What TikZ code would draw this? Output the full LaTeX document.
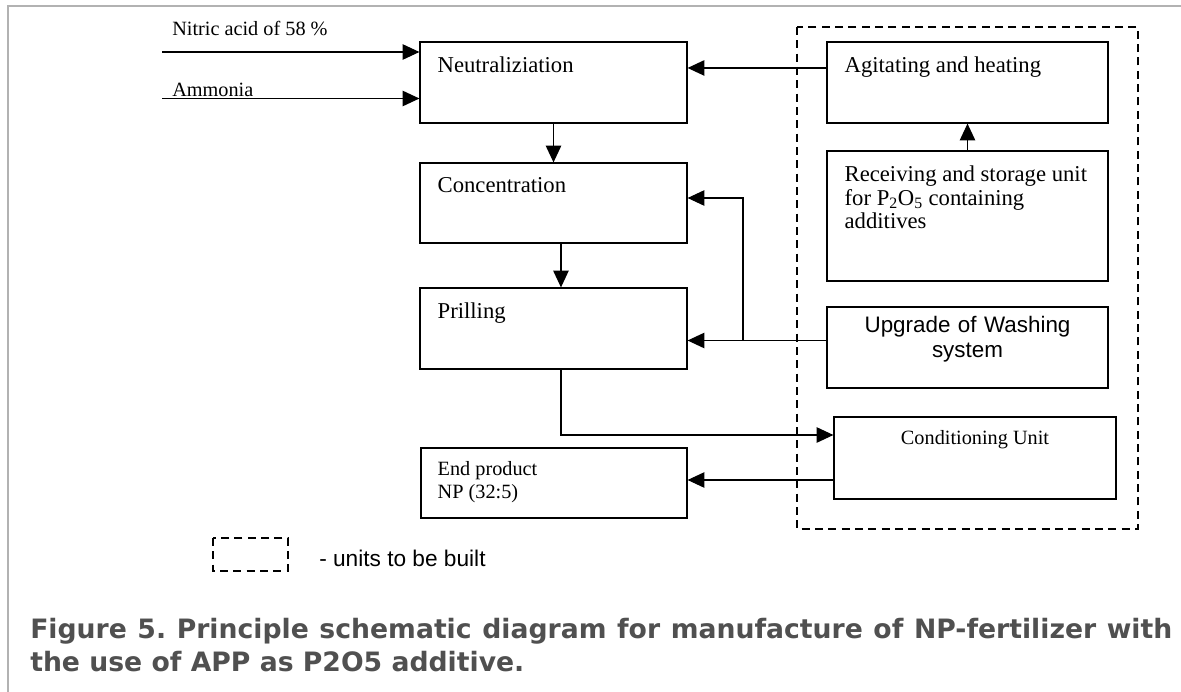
\documentclass[tikz,border=0pt]{standalone}
\usepackage{fontspec}
\setmainfont{Liberation Serif}
\newfontfamily\arialfont{Liberation Sans}
\newfontfamily\capfont{DejaVu Sans}
\usetikzlibrary{arrows.meta,fit}
\definecolor{capgray}{RGB}{80,80,80}

\begin{document}
\begin{tikzpicture}[x=0.75pt,y=-0.75pt,
        unit/.style={draw, line width=0.9pt, inner sep=0pt},
        boxtext/.style={font=\fontsize{17}{17.5}\selectfont, inner sep=0pt, align=left},
        smalltext/.style={font=\fontsize{15.2}{17.6}\selectfont, inner sep=0pt, align=left},
        flow/.style={line width=0.9pt, -{Triangle[length=12.5pt,width=11.5pt]}},
        newunit/.style={line width=1pt, dash pattern=on 6pt off 4pt},
        caption/.style={font=\capfont\bfseries\fontsize{20}{24}\selectfont, text=capgray, inner sep=0pt}
    ]
    \useasboundingbox (0,0) rectangle (1181,692);
    \draw[gray!60, line width=0.8pt] (8,692) -- (8,6) -- (1181,6);

    % main line
    \node[unit, fit={(420,42) (687,123)},
        label={[boxtext, anchor=north west, xshift=13.5pt, yshift=-11pt]north west:Neutraliziation}] (neut) {};
    \node[unit, fit={(420,163) (687,243)},
        label={[boxtext, anchor=north west, xshift=13.5pt, yshift=-11pt]north west:Concentration}] (conc) {};
    \node[unit, fit={(420,288) (687,369)},
        label={[boxtext, anchor=north west, xshift=13.5pt, yshift=-11pt]north west:Prilling}] (prill) {};
    \node[unit, fit={(421,448) (687,518)},
        label={[smalltext, anchor=north west, xshift=12.75pt, yshift=-10pt]north west:End product\\NP (32:5)}] (endp) {};

    % units to be built
    \draw[newunit] (797,27) rectangle (1138,529);
    \node[unit, fit={(827,42) (1108,123)},
        label={[boxtext, anchor=north west, xshift=13.5pt, yshift=-11pt]north west:Agitating and heating}] (agit) {};
    \node[unit, fit={(827,151) (1108,281)},
        label={[boxtext, anchor=north west, xshift=13.5pt, yshift=-11.5pt]north west:Receiving and storage unit\\
            for P\textsubscript{2}O\textsubscript{5} containing\\additives}] (recv) {};
    \node[unit, fit={(827,307) (1108,388)}, align=center,
        font=\arialfont\fontsize{16.8}{18.5}\selectfont] (wash) {Upgrade of Washing\\system};
    \node[unit, fit={(834,417) (1116,499)},
        label={[smalltext, anchor=north, yshift=-10.5pt]north:Conditioning Unit}] (cond) {};

    % feeds
    \node[smalltext, anchor=base west] (nitric) at (172,36) {Nitric acid of 58 \%};
    \node[smalltext, anchor=base west] (ammonia) at (172,96) {Ammonia};
    \coordinate (nitric-in) at (162,52);
    \coordinate (ammonia-in) at (162,98.5);
    \coordinate (tap) at (743,340.5);

    \draw[flow] (nitric-in) -- (neut.west |- nitric-in);
    \draw[flow] (ammonia-in) -- (neut.west |- ammonia-in);
    \draw[flow] ([yshift=10.9pt]agit.west) -- ([yshift=10.9pt]neut.east);
    \draw[flow] (neut.south) -- (conc.north);
    \draw[flow] ([xshift=5.6pt]conc.south) -- ([xshift=5.6pt]prill.north);
    \draw[flow] (recv.north) -- (agit.south);
    \draw[flow] ([yshift=5.25pt]wash.west) -- (prill.east |- tap);
    \draw[flow] (tap) |- ([yshift=3.75pt]conc.east);
    \draw[flow] ([xshift=5.6pt]prill.south) |- ([yshift=17.25pt]cond.west);
    \draw[flow] ([yshift=-16.5pt]cond.west) -- ([yshift=2.25pt]endp.east);

    % legend
    \draw[newunit] (213,538) rectangle (288,571);
    \node[font=\arialfont\fontsize{17}{20}\selectfont, anchor=west, inner sep=0pt] (legend) at (319,558) {- units to be built};

    \node[caption, anchor=base west] (cap1) at (30,638)
        {\makebox[856.5pt][s]{Figure 5.\ Principle schematic diagram for manufacture of NP-fertilizer with}};
    \node[caption, anchor=base west] (cap2) at (30,671) {the use of APP as P2O5 additive.};
\end{tikzpicture}
\end{document}
